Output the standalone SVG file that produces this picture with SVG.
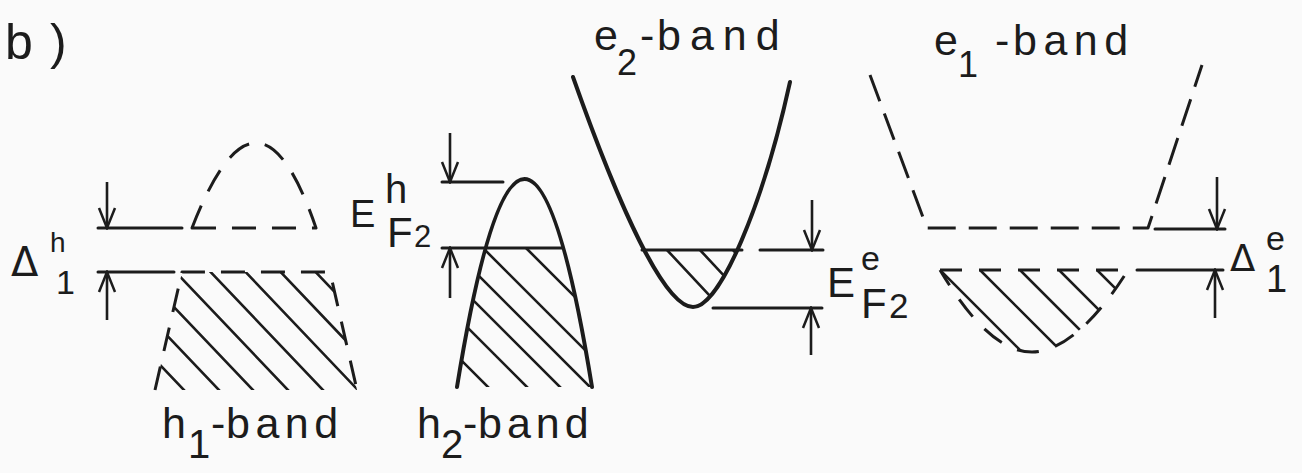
<svg xmlns="http://www.w3.org/2000/svg" width="1302" height="473" viewBox="0 0 1302 473">
<style>
.ink{stroke:#1c1c1c;fill:none;stroke-width:3;stroke-linecap:round;stroke-linejoin:round}
.thick{stroke-width:4}
.hatch{stroke:#1c1c1c;fill:none;stroke-width:2.6;stroke-linecap:butt}
.d1{stroke-dasharray:24 16;stroke-linecap:butt}
.d2{stroke-dasharray:28 13;stroke-linecap:butt}
.d3{stroke-dasharray:22 17;stroke-linecap:butt}
.arr{stroke:#1c1c1c;fill:none;stroke-width:2.6;marker-end:url(#ah)}
text{font-family:"Liberation Sans",Arial,sans-serif;fill:#1c1c1c}
.band{font-size:43px}
.dl{font-family:"DejaVu Sans",sans-serif}
</style>
<defs>
<marker id="ah" viewBox="-22 -10 24 20" refX="0" refY="0" markerWidth="24" markerHeight="20" markerUnits="userSpaceOnUse" orient="auto">
<path d="M-20,-8 L0,0 L-20,8" fill="none" stroke="#1c1c1c" stroke-width="2.5"/>
</marker>
<clipPath id="c-h1"><path d="M182,272 L330,272 L357,390 L155,390 Z"/></clipPath>
<clipPath id="c-h2"><path d="M457,387 Q524.5,-29 592,387 Z"/></clipPath>
<clipPath id="c-e2"><path d="M573,77 C620,210 665,307 693,307 C720,307 763,205 790,82 Z"/></clipPath>
<clipPath id="c-e1"><path d="M940,270 H1128 C1100,315 1065,352 1032,352 C1000,352 970,320 940,270 Z"/></clipPath>
</defs>
<rect width="1302" height="473" fill="#fafafa"/>

<text x="5" y="59" font-size="50"><tspan>b</tspan><tspan x="50">)</tspan></text>

<g id="h1-band">
<path class="ink d1" d="M192,228 Q258,58 316,228 Z"/>
<path class="ink" d="M98,228 H182"/>
<path class="ink" d="M98,272 H174"/>
<path class="ink d1" d="M155,390 L182,272 L330,272 L357,390"/>
<path class="hatch" clip-path="url(#c-h1)" d="M65.9,266 L188.7,395 M100.9,266 L223.7,395 M134.9,266 L257.7,395 M169.9,266 L292.7,395 M204.9,266 L327.7,395 M239.9,266 L362.7,395 M274.9,266 L397.7,395 M309.9,266 L432.7,395"/>
<text class="band" x="162" y="438">h<tspan x="188" y="458" font-size="40">1</tspan><tspan x="211" y="438">-</tspan><tspan x="226" y="438" letter-spacing="5.5">band</tspan></text>
<text x="11" y="276" font-size="40" class="dl">Δ<tspan x="50" y="252" font-size="28" font-family="Liberation Sans, sans-serif">h</tspan><tspan x="56" y="294" font-size="34" font-family="Liberation Sans, sans-serif">1</tspan></text>
</g>

<g id="h2-band">
<path class="ink thick" d="M457,387 Q524.5,-29 592,387"/>
<path class="ink" d="M442,182 H503"/>
<path class="ink" d="M442,248 H562"/>
<path class="hatch" clip-path="url(#c-h2)" d="M349,248 L496,395 M388,248 L535,395 M421,248 L568,395 M451,248 L598,395 M483,248 L630,395 M526,248 L673,395"/>
<text class="band" x="417" y="438">h<tspan x="441" y="458" font-size="40">2</tspan><tspan x="463" y="438">-</tspan><tspan x="478" y="438" letter-spacing="5">band</tspan></text>
<text x="350" y="227" font-size="38">E<tspan x="385" y="203" font-size="40">h</tspan><tspan x="387" y="247" font-size="42">F</tspan><tspan x="414" y="247" font-size="31">2</tspan></text>
</g>

<g id="e2-band">
<path class="ink thick" d="M573,77 C620,210 665,307 693,307 C720,307 763,205 790,82"/>
<path class="ink" d="M642,250 H742"/>
<path class="ink" d="M760,250 H823"/>
<path class="ink" d="M713,308 H822"/>
<path class="hatch" clip-path="url(#c-e2)" d="M667,250 L732.4,320 M700,250 L765.4,320 M733,250 L798.4,320"/>
<text class="band" x="594" y="50">e<tspan x="617" y="75" font-size="36">2</tspan><tspan x="640" y="50">-</tspan><tspan x="657" y="50" letter-spacing="9">band</tspan></text>
<text x="827" y="297" font-size="42">E<tspan x="861" y="270" font-size="34">e</tspan><tspan x="861" y="318" font-size="42">F</tspan><tspan x="889" y="318" font-size="35">2</tspan></text>
</g>

<g id="e1-band">
<path class="ink d2" d="M870,75 L927,228 L1148,228 L1202,65"/>
<path class="ink" d="M1155,229 H1225"/>
<path class="ink d3" d="M940,270 H1128 C1100,315 1065,352 1032,352 C1000,352 970,320 940,270"/>
<path class="ink" d="M1137,270 H1223"/>
<path class="hatch" clip-path="url(#c-e1)" d="M940,270 L1030,360 M980,270 L1070,360 M1020,270 L1110,360 M1059,270 L1149,360 M1097,270 L1187,360"/>
<text class="band" x="934" y="55">e<tspan x="958" y="77" font-size="36">1</tspan><tspan x="995" y="55">-</tspan><tspan x="1013" y="55" letter-spacing="6.5">band</tspan></text>
<text x="1230" y="271" font-size="37" class="dl">Δ<tspan x="1266" y="250" font-size="34" font-family="Liberation Sans, sans-serif">e</tspan><tspan x="1266" y="292" font-size="38" font-family="Liberation Sans, sans-serif">1</tspan></text>
</g>

<g id="connectors">
<path class="arr" d="M107,182 V228"/>
<path class="arr" d="M107,320 V272"/>
<path class="arr" d="M450,133 V182"/>
<path class="arr" d="M450,298 V248"/>
<path class="arr" d="M812,200 V250"/>
<path class="arr" d="M811,355 V308"/>
<path class="arr" d="M1217,177 V229"/>
<path class="arr" d="M1215,318 V270"/>
</g>
</svg>
